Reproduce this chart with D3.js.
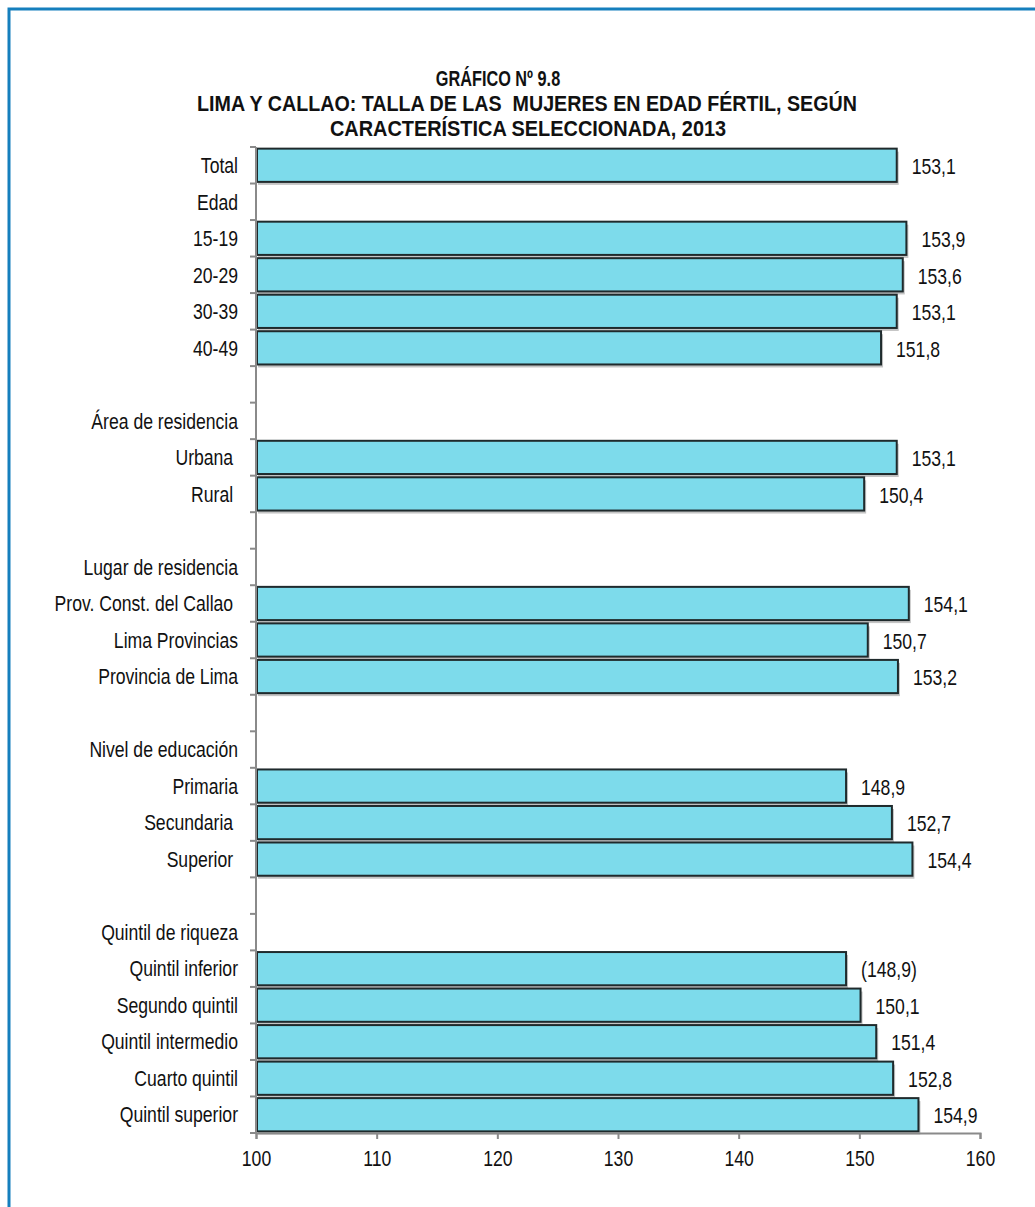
<!DOCTYPE html>
<html>
<head>
<meta charset="utf-8">
<script src="https://cdn.jsdelivr.net/npm/d3@7/dist/d3.min.js"></script>
<style>
  html, body { margin: 0; padding: 0; background: #fff; }
  svg text { white-space: pre; }
</style>
</head>
<body>
<svg id="chart" width="1035" height="1207"></svg>
<script>
const titleLines = ["GRÁFICO Nº 9.8", "LIMA Y CALLAO: TALLA DE LAS  MUJERES EN EDAD FÉRTIL, SEGÚN", "CARACTERÍSTICA SELECCIONADA, 2013"];
const categories = ["Total", "Edad", "15-19", "20-29", "30-39", "40-49", "", "Área de residencia", "Urbana ", "Rural ", "", "Lugar de residencia", "Prov. Const. del Callao ", "Lima Provincias", "Provincia de Lima", "", "Nivel de educación", "Primaria", "Secundaria ", "Superior ", "", "Quintil de riqueza", "Quintil inferior", "Segundo quintil", "Quintil intermedio", "Cuarto quintil", "Quintil superior"];
const values = [153.1, null, 153.9, 153.6, 153.1, 151.8, null, null, 153.1, 150.4, null, null, 154.1, 150.7, 153.2, null, null, 148.9, 152.7, 154.4, null, null, 148.9, 150.1, 151.4, 152.8, 154.9];
const valueLabels = ["153,1", "", "153,9", "153,6", "153,1", "151,8", "", "", "153,1", "150,4", "", "", "154,1", "150,7", "153,2", "", "", "148,9", "152,7", "154,4", "", "", "(148,9)", "150,1", "151,4", "152,8", "154,9"];
const xTicks = [100, 110, 120, 130, 140, 150, 160];

const FONT = "'Liberation Sans', Arial, sans-serif";
const SX = 0.8;      // horizontal condensation of body text
const FS = 22;
const svg = d3.select("#chart");

// page frame (top + left blue rule)
svg.append("path").attr("d", "M9,1207 L9,9 L1035,9").attr("fill", "none")
  .attr("stroke", "#157fbd").attr("stroke-width", 3);

// title
const titleY = [78, 103, 128];
const titleX = [498, 527, 528];
const titleSX = [0.74, 0.895, 0.905];
svg.selectAll("text.title").data(titleLines).join("text")
  .attr("class", "title")
  .attr("transform", (d, i) => `translate(${titleX[i]},${titleY[i]}) scale(${titleSX[i]},1)`)
  .attr("text-anchor", "middle").attr("dominant-baseline", "central")
  .attr("font-family", FONT).attr("font-weight", "bold").attr("font-size", 22)
  .attr("fill", "#111").text(d => d);

const keys = categories.map((c, i) => i);
const x = d3.scaleLinear().domain([100, 160]).range([256, 980]);
const y = d3.scaleBand().domain(keys).range([147, 1133]).paddingInner(0.09).paddingOuter(0.045);

const rows = keys.map(i => ({ i, cat: categories[i], v: values[i], lab: valueLabels[i] }));
const barRows = rows.filter(r => r.v != null);

// bar shadows
svg.append("g").selectAll("rect").data(barRows).join("rect")
  .attr("x", x(100) + 2).attr("y", r => y(r.i) + 3)
  .attr("width", r => x(r.v) - x(100)).attr("height", y.bandwidth())
  .attr("fill", "#c4c4c4");
// bars
svg.append("g").selectAll("rect").data(barRows).join("rect")
  .attr("x", x(100) + 1).attr("y", r => y(r.i))
  .attr("width", r => x(r.v) - x(100) - 1).attr("height", y.bandwidth())
  .attr("fill", "#7ddbeb").attr("stroke", "#1f2a2c").attr("stroke-width", 2);

// value labels
svg.append("g").selectAll("text").data(barRows).join("text")
  .attr("transform", r => `translate(${x(r.v) + 15},${y(r.i) + y.bandwidth() / 2 + 1}) scale(${SX},1)`)
  .attr("dominant-baseline", "central")
  .attr("font-family", FONT).attr("font-size", FS).attr("fill", "#111")
  .text(r => r.lab);

// category labels
svg.append("g").selectAll("text").data(rows).join("text")
  .attr("transform", r => `translate(238,${y(r.i) + y.bandwidth() / 2}) scale(${SX},1)`)
  .attr("text-anchor", "end").attr("dominant-baseline", "central")
  .attr("font-family", FONT).attr("font-size", FS).attr("fill", "#111")
  .text(r => r.cat);

// left axis: line + ticks at band boundaries
const boundaries = d3.range(categories.length + 1).map(k => 147 + k * (1133 - 147) / categories.length);
const axisG = svg.append("g");
axisG.append("line").attr("x1", 256).attr("x2", 256).attr("y1", 147).attr("y2", 1133)
  .attr("stroke", "#8a8a8a").attr("stroke-width", 2);
axisG.selectAll("line.yt").data(boundaries).join("line").attr("class", "yt")
  .attr("x1", 250).attr("x2", 256).attr("y1", d => d).attr("y2", d => d)
  .attr("stroke", "#8a8a8a").attr("stroke-width", 2);

// bottom axis
const xAxis = d3.axisBottom(x).tickValues(xTicks).tickSize(6).tickPadding(8).tickFormat(d3.format("d"));
const xg = svg.append("g").attr("transform", "translate(0,1133)").call(xAxis);
xg.select(".domain").attr("stroke", "#8a8a8a").attr("stroke-width", 2);
xg.selectAll(".tick line").attr("stroke", "#8a8a8a").attr("stroke-width", 2);
xg.selectAll(".tick text")
  .attr("font-family", FONT).attr("font-size", FS).attr("fill", "#111")
  .attr("transform", `translate(0,25) scale(${SX},1)`).attr("y", 0).attr("dy", "0.35em");
</script>
</body>
</html>
